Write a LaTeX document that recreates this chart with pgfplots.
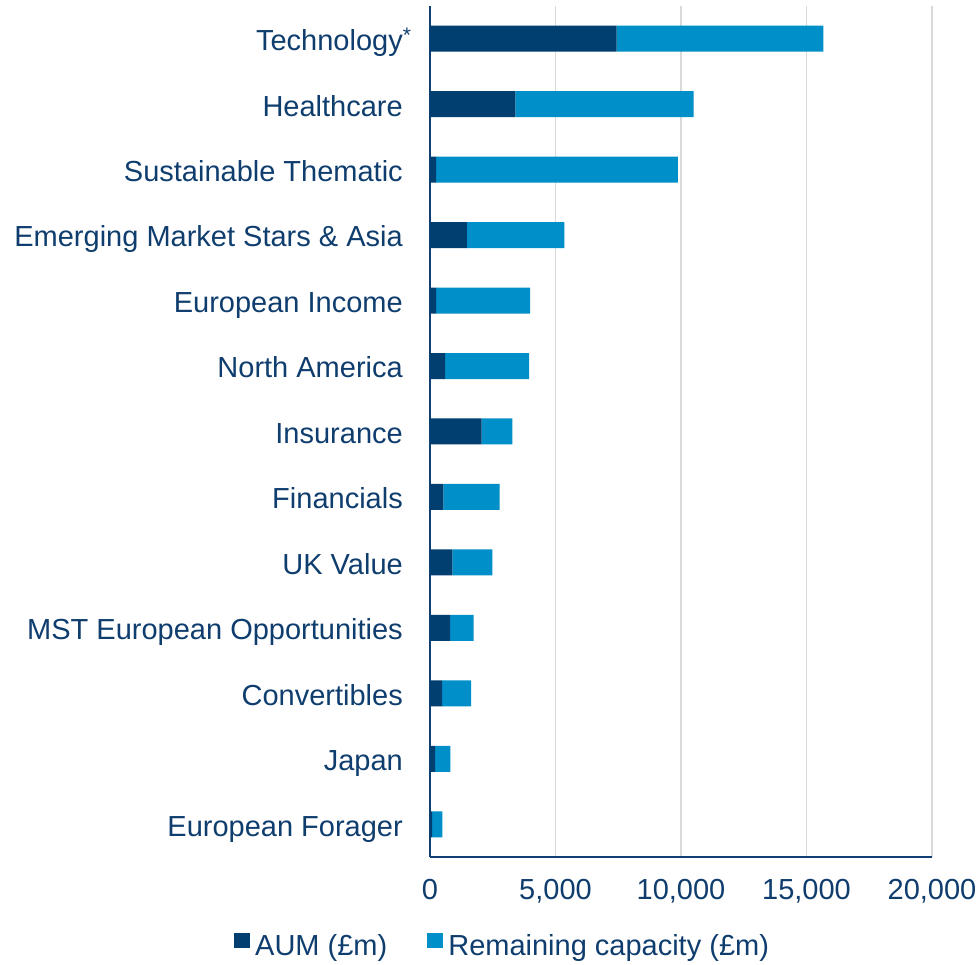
\documentclass[border=0pt]{standalone}
\usepackage{pgfplots}
\pgfplotsset{compat=1.18}
\usepackage{fontspec}
\setmainfont{Liberation Sans}
\definecolor{aum}{RGB}{0,63,112}
\definecolor{remcap}{RGB}{0,143,200}
\definecolor{txt}{RGB}{14,61,110}
\definecolor{axln}{RGB}{16,64,115}
\definecolor{gridc}{RGB}{217,217,217}
\begin{document}
\begin{tikzpicture}
\fontsize{29}{34}\selectfont
\begin{axis}[
  scale only axis,
  width=502pt, height=851pt,
  xbar stacked,
  bar width=26pt,
  xmin=0, xmax=20000,
  ymin=-0.5, ymax=12.5,
  axis x line*=bottom,
  axis y line*=left,
  axis line style={axln, line width=2pt, -},
  xmajorgrids,
  grid style={gridc, line width=1.8pt},
  major tick length=0pt,
  xtick={0,5000,10000,15000,20000},
  ytick=data,
  yticklabels={European Forager, Japan, Convertibles, MST European Opportunities, UK Value, Financials, Insurance, North America, European Income, Emerging Market Stars \& Asia, Sustainable Thematic, Healthcare, Technology\rlap{\raisebox{8pt}{\fontsize{21}{21}\selectfont *}}},
  ticklabel style={font=\fontsize{29}{34}\selectfont, text=txt},
  yticklabel style={inner sep=0pt, xshift=-27pt, text height=0.716em, text depth=0pt, yshift=-1.5pt},
  xticklabel style={inner sep=0pt, yshift=-22pt},
  /pgf/number format/assume math mode=true,
  /pgf/number format/1000 sep={,},
  scaled x ticks=false,
  legend columns=2,
  legend style={draw=none, fill=none, inner sep=0pt,
    at={(axis description cs:-0.3904,-0.1058)}, anchor=west,
    font=\fontsize{29}{34}\selectfont, text=txt,
    nodes={inner sep=3pt},
    /tikz/every even column/.append style={column sep=37pt}},
  legend image code/.code={\fill[#1] (0pt,-1pt) rectangle (16pt,14pt); \path (18pt,0pt);},
]
\addplot+[fill=aum, draw=none] coordinates {(80,0) (200,1) (480,2) (800,3) (890,4) (530,5) (2060,6) (600,7) (240,8) (1470,9) (240,10) (3400,11) (7440,12)};
\addplot+[fill=remcap, draw=none] coordinates {(410,0) (610,1) (1160,2) (940,3) (1600,4) (2240,5) (1220,6) (3350,7) (3750,8) (3880,9) (9640,10) (7100,11) (8230,12)};
\legend{AUM (£m), Remaining capacity (£m)}
\end{axis}
\pgfresetboundingbox
\path[use as bounding box] (-430pt,-107pt) rectangle (549pt,857pt);
\end{tikzpicture}
\end{document}
